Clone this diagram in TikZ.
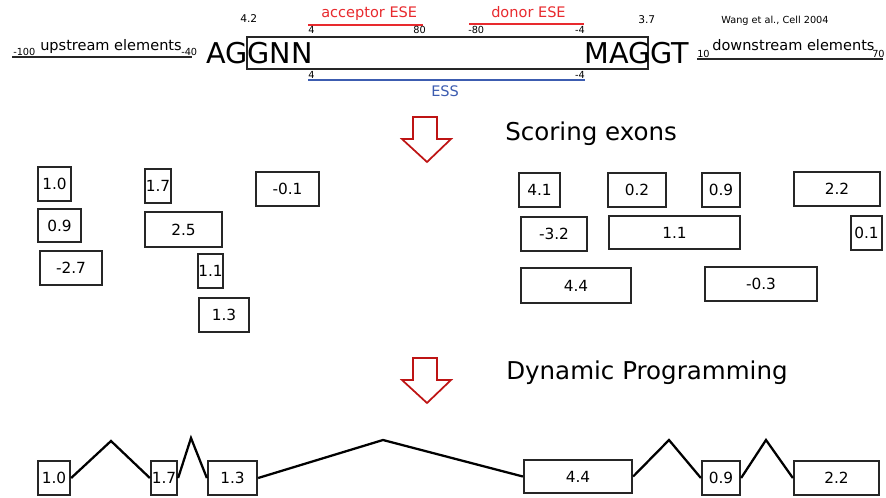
\documentclass[tikz,border=0pt]{standalone}
\usepackage{fontspec}
\setmainfont{DejaVu Sans}
\usetikzlibrary{calc}

\definecolor{eseRed}{RGB}{232,42,46}
\definecolor{essBlue}{RGB}{60,92,176}
\definecolor{arrowRed}{RGB}{190,20,20}

\tikzset{
  tinytext/.style={font=\fontsize{7.3}{8}\selectfont, inner sep=0pt},
  smalltext/.style={font=\fontsize{8}{9}\selectfont, inner sep=0pt},
  elemtext/.style={font=\fontsize{10.9}{12}\selectfont, inner sep=0pt},
  motif/.style={font=\fontsize{21.5}{24}\selectfont, inner sep=0pt},
  heading/.style={font=\fontsize{18.4}{21}\selectfont, inner sep=0pt},
  exon/.style={draw=black!85, line width=0.9pt, inner sep=0pt, font=\fontsize{11.5}{13}\selectfont},
  pathexon/.style={exon, line width=1.7pt},
  intron/.style={line width=1.7pt, line join=miter},
}

% box from (x1,y1) to (x2,y2) in pixel units
\newcommand{\exonbox}[7][exon]{%
  \node[#1, minimum width={(#5-#3)*0.75pt}, minimum height={(#6-#4)*0.75pt}]
    (#2) at ({(#3+#5)/2},{(#4+#6)/2}) {#7};}

\begin{document}
\begin{tikzpicture}[x=0.75pt, y=-0.75pt]
\useasboundingbox (0,0) rectangle (886,497);

% splice site model
\draw[black!85, line width=1.1pt] (12,57) -- (192,57);
\node[tinytext, anchor=base west] (um) at (13,55) {-100};
\node[elemtext, anchor=base west] (up) at (40,50) {upstream elements};
\node[tinytext, anchor=base west] (ue) at (181,55) {-40};
\node[motif, anchor=base west] (ss3) at (206,63) {AGGNN};
\draw[black!85, line width=1pt] (247,37) rectangle (648,69);
\node[motif, anchor=base west] (ss5) at (584,63) {MAGGT};
\node[smalltext, anchor=base west] (s3) at (240,22) {4.2};
\node[smalltext, anchor=base west] (s5) at (638,23) {3.7};
\node[tinytext, anchor=base west] (ref) at (721,23) {Wang et al., Cell 2004};
\draw[black!85, line width=1.1pt] (697,59) -- (883,59);
\node[tinytext, anchor=base west] (dm) at (697,57) {10};
\node[elemtext, anchor=base west] (down) at (712,50) {downstream elements};
\node[tinytext, anchor=base west] (de) at (872,57) {70};

\draw[eseRed, line width=1pt] (308,25) -- (423,25);
\node[elemtext, eseRed, anchor=base west] (acc) at (321,17) {acceptor ESE};
\node[tinytext, anchor=base west] at (308,33) {4};
\node[tinytext, anchor=base east] at (426,33) {80};
\draw[eseRed, line width=1pt] (469,24) -- (584,24);
\node[elemtext, eseRed, anchor=base west] (don) at (491,17) {donor ESE};
\node[tinytext, anchor=base west] at (468,33) {-80};
\node[tinytext, anchor=base east] at (585,33) {-4};
\draw[essBlue, line width=1pt] (308,80) -- (585,80);
\node[elemtext, essBlue, anchor=base west] (ess) at (431,96) {ESS};
\node[tinytext, anchor=base west] at (308,78) {4};
\node[tinytext, anchor=base east] at (585,78) {-4};

% step arrows
\foreach \y in {0,241}
  \draw[arrowRed, line width=1.3pt, line join=miter, fill=white, yshift=-\y*0.75pt]
    (413,117) -- (437,117) -- (437,139) -- (451,139) -- (427,162)
    -- (402,139) -- (413,139) -- cycle;
\node[heading, anchor=base west] (score) at (505,140) {Scoring exons};
\node[heading, anchor=base west] (dp) at (506,379) {Dynamic Programming};

% candidate exons
\exonbox{a1}{38}{167}{71}{201}{1.0}
\exonbox{a2}{38}{209}{81}{242}{0.9}
\exonbox{a3}{40}{251}{102}{285}{-2.7}
\exonbox{a4}{145}{169}{171}{203}{1.7}
\exonbox{a5}{145}{212}{222}{247}{2.5}
\exonbox{a6}{198}{254}{223}{288}{1.1}
\exonbox{a7}{199}{298}{249}{332}{1.3}
\exonbox{a8}{256}{172}{319}{206}{-0.1}
\exonbox{b1}{519}{173}{560}{207}{4.1}
\exonbox{b2}{608}{173}{666}{207}{0.2}
\exonbox{b3}{702}{173}{740}{207}{0.9}
\exonbox{b4}{794}{172}{880}{206}{2.2}
\exonbox{b5}{521}{217}{587}{251}{-3.2}
\exonbox{b6}{609}{216}{740}{249}{1.1}
\exonbox{b7}{851}{216}{882}{250}{0.1}
\exonbox{b8}{521}{268}{631}{303}{4.4}
\exonbox{b9}{705}{267}{817}{301}{-0.3}

% best gene structure
\exonbox[pathexon]{p1}{38}{461}{70}{495}{1.0}
\exonbox[pathexon]{p2}{151}{461}{177}{495}{1.7}
\exonbox[pathexon]{p3}{208}{461}{257}{495}{1.3}
\exonbox[pathexon]{p4}{524}{460}{632}{493}{4.4}
\exonbox[pathexon]{p5}{702}{461}{740}{495}{0.9}
\exonbox[pathexon]{p6}{794}{461}{879}{495}{2.2}
\coordinate (k1) at (111,441);
\coordinate (k2) at (191,438);
\coordinate (k3) at (383,440);
\coordinate (k4) at (669,440);
\coordinate (k5) at (766,440);
\draw[intron] (p1.east) -- (k1) -- (p2.west);
\draw[intron] (p2.east) -- (k2) -- (p3.west);
\draw[intron] (p3.east) -- (k3) -- (p4.west);
\draw[intron] (p4.east) -- (k4) -- (p5.west);
\draw[intron] (p5.east) -- (k5) -- (p6.west);
\end{tikzpicture}
\end{document}
